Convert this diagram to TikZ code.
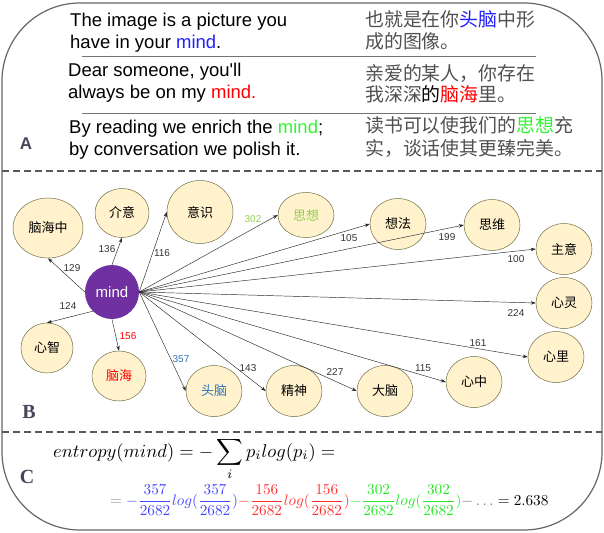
\documentclass[tikz,border=0pt]{standalone}
\usepackage{graphicx}
\usepackage[no-math]{fontspec}
\usetikzlibrary{arrows.meta,shapes.geometric}
\newfontfamily\arial{Liberation Sans}
\newfontfamily\tnr{Liberation Serif}
\newfontfamily\cjk{Noto Sans CJK SC}
\definecolor{mindblue}{RGB}{30,30,255}
\definecolor{mindred}{RGB}{255,0,0}
\definecolor{mindgreen}{RGB}{50,245,50}
\definecolor{zhgray}{RGB}{80,80,80}
\definecolor{cream}{RGB}{255,242,204}
\definecolor{rim}{RGB}{110,110,70}
\definecolor{hubpurple}{RGB}{112,48,160}
\definecolor{sxgreen}{RGB}{146,208,80}
\definecolor{tnblue}{RGB}{46,117,182}
\definecolor{fblue}{RGB}{70,70,255}
\definecolor{fred}{RGB}{255,50,50}
\definecolor{fgreen}{RGB}{40,230,40}
\definecolor{taggray}{RGB}{70,70,90}
\tikzset{
  frame/.style={draw=black!60, line width=1.2pt, rounded corners=78pt},
  cut/.style={draw=black!65, line width=1.2pt, dash pattern=on 7pt off 4pt},
  rule/.style={draw=black!55, line width=1pt},
  en/.style={anchor=base west, inner sep=0pt, font=\arial\fontsize{18.5}{22}\selectfont},
  zh/.style={anchor=base west, inner sep=0pt, text=zhgray, font=\cjk\fontsize{18.9}{22}\selectfont},
  word/.style={ellipse, draw=rim, fill=cream, line width=0.5pt, inner sep=0pt,
    minimum width=56pt, minimum height=51pt, font=\cjk\fontsize{13}{15}\selectfont},
  hub/.style={circle, fill=hubpurple, text=white, inner sep=0pt, minimum size=54pt,
    font=\arial\fontsize{15}{17}\selectfont},
  link/.style={draw=black!85, line width=0.45pt, -{Stealth[length=5pt,width=3.5pt]}},
  num/.style={inner sep=0pt, text=black!80, font=\arial\fontsize{10}{12}\selectfont},
  tagA/.style={inner sep=0pt, text=taggray, font=\arial\bfseries\fontsize{17}{20}\selectfont},
  tag/.style={inner sep=0pt, text=taggray, font=\tnr\bfseries\fontsize{20}{24}\selectfont}
}
\begin{document}
\begin{tikzpicture}[x=1pt,y=-1pt]
\useasboundingbox (0,0) rectangle (604,532);
% outer frame and the two cuts
\draw[frame] (2,3) rectangle (602,530);
\draw[cut] (2,171) -- (602,171);
\draw[cut] (2,432) -- (602,432);

% part A
\node[en] (e1a) at (70,27) {The image is a picture you};
\node[en] (e1b) at (70,49) {have in your \textcolor{mindblue}{mind}.};
\node[en] (e2a) at (68,77) {Dear someone, you'll};
\node[en] (e2b) at (68,99) {always be on my \textcolor{mindred}{mind.}};
\node[en] (e3a) at (69,133) {By reading we enrich the \textcolor{mindgreen}{mind};};
\node[en] (e3b) at (69,155) {by conversation we polish it.};
\node[zh] (c1a) at (365,27) {也就是在你\textcolor{mindblue}{头脑}中形};
\node[zh] (c1b) at (365,49) {成的图像。};
\node[zh] (c2a) at (365,81) {亲爱的某人，你存在};
\node[zh] (c2b) at (365,102) {我深深\textcolor{black}{的}\textcolor{mindred}{脑海}里。};
\node[zh] (c3a) at (365,132) {读书可以使我们的\textcolor{mindgreen}{思想}充};
\node[zh] (c3b) at (365,155) {实，谈话使其更臻完美。};
\draw[rule] (82,57) -- (536,57);
\draw[rule] (82,113) -- (536,113);
\node[tagA] (secA) at (26,144) {A};

% part B
\node[hub] (mind) at (112,292) {mind};
\node[word, minimum width=70pt, minimum height=60pt] (nhz) at (48,228) {脑海中};
\node[word, minimum width=54pt, minimum height=49pt] (jy) at (122,213) {介意};
\node[word, minimum width=66pt, minimum height=63pt] (ys) at (200,212) {意识};
\node[word, minimum height=45pt, text=sxgreen] (sx) at (306,215) {思想};
\node[word] (xf) at (398,224) {想法};
\node[word] (sw) at (492,225) {思维};
\node[word] (zy) at (564,249) {主意};
\node[word] (xl) at (564,303) {心灵};
\node[word] (xli) at (556,357) {心里};
\node[word] (xz) at (474,382) {心中};
\node[word] (dn) at (385,391) {大脑};
\node[word] (js) at (294,391) {精神};
\node[word, text=tnblue] (tn) at (214,391) {头脑};
\node[word, minimum width=54pt, minimum height=50pt, text=mindred] (nh) at (119,376) {脑海};
\node[word, minimum width=52pt, minimum height=50pt] (xzh) at (47,348) {心智};

\draw[link] (mind.west) -- (nhz.south);
\draw[link] (mind.north) -- (jy.south);
\draw[link] (mind.south west) -- (xzh.north);
\draw[link] (mind.south) -- (nh.north);
\draw[link] (mind.east) -- (ys.west);
\draw[link] (mind.east) -- (sx.west);
\draw[link] (mind.east) -- (xf.west);
\draw[link] (mind.east) -- (sw.west);
\draw[link] (mind.east) -- (zy.west);
\draw[link] (mind.east) -- (xl.west);
\draw[link] (mind.east) -- (xli.west);
\draw[link] (mind.east) -- (xz.west);
\draw[link] (mind.east) -- (dn.west);
\draw[link] (mind.east) -- (js.west);
\draw[link] (mind.east) -- (tn.west);

\node[num] (n129) at (72,268) {129};
\node[num] (n136) at (107,249) {136};
\node[num] (n116) at (162,253) {116};
\node[num] (n124) at (68,306) {124};
\node[num, text=mindred] (n156) at (128,336) {156};
\node[num, text=tnblue] (n357) at (181,359) {357};
\node[num] (n143) at (248,368) {143};
\node[num] (n227) at (335,372) {227};
\node[num] (n115) at (423,368) {115};
\node[num] (n161) at (478,343) {161};
\node[num] (n224) at (516,313) {224};
\node[num] (n100) at (516,259) {100};
\node[num] (n199) at (447,237) {199};
\node[num] (n105) at (349,238) {105};
\node[num, text=sxgreen] (n302) at (253,219) {302};
\node[tag] (secB) at (29,412) {B};

% part C
\node[tag] (secC) at (27,477) {C};
\node[anchor=base west, inner sep=0pt] (ent) at (53,457)
  {\scalebox{1.85}{$\displaystyle entropy(mind)=-\sum_i p_i log(p_i)=$}};
\node[anchor=base west, inner sep=0pt] (sum) at (110,505)
  {\scalebox{1.52}{$\displaystyle \mathrel{\color{black!45}=}
  {\color{fblue}-\frac{357}{2682}log(\frac{357}{2682})}
  {\color{fred}-\frac{156}{2682}log(\frac{156}{2682})}
  {\color{fgreen}-\frac{302}{2682}log(\frac{302}{2682})}
  {\color{black!55}-\ldots} = 2.638$}};
\end{tikzpicture}
\end{document}
